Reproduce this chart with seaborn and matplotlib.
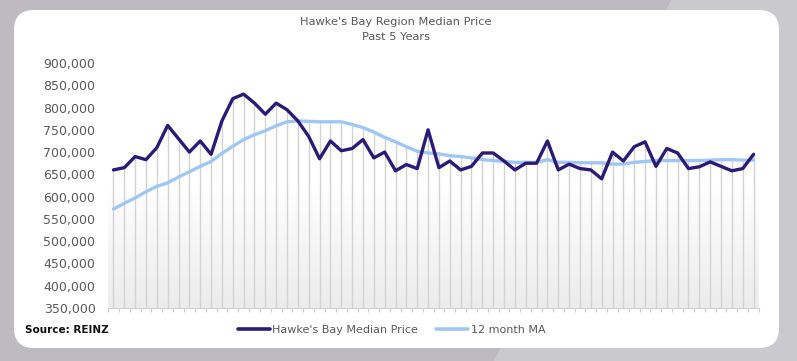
import numpy as np
import pandas as pd
import matplotlib
matplotlib.use("Agg")
import matplotlib.pyplot as plt
import seaborn as sns
from matplotlib.patches import FancyBboxPatch, Polygon
from matplotlib.colors import LinearSegmentedColormap
from matplotlib.ticker import FuncFormatter, FixedLocator
from matplotlib.lines import Line2D

# ---- data (NZD, thousands), 60 months ----
median_price = [660, 665, 690, 683, 710, 760, 730, 700, 725, 695,
                770, 820, 830, 810, 785, 810, 795, 770, 735, 685,
                725, 703, 708, 728, 687, 700, 658, 672, 663, 750,
                665, 680, 660, 668, 698, 698, 680, 660, 675, 675,
                725, 660, 673, 663, 660, 640, 700, 680, 712, 723,
                668, 708, 698, 663, 667, 678, 668, 658, 663, 695]
ma_12 = [572, 585, 597, 611, 623, 631, 644, 656, 668, 679,
         697, 713, 728, 739, 748, 759, 768, 770, 769, 768,
         768, 768, 762, 755, 745, 733, 723, 712, 702, 698,
         696, 692, 690, 687, 683, 681, 679, 677, 677, 677,
         683, 677, 677, 676, 676, 676, 673, 673, 677, 679,
         681, 681, 681, 681, 681, 682, 683, 683, 682, 682]
series_names = ["Hawke's Bay Median Price", "12 month MA"]
title_lines = ["Hawke's Bay Region Median Price", "Past 5 Years"]
source_text = "Source: REINZ"

med = np.array(median_price) * 1000
ma = np.array(ma_12) * 1000
month = np.arange(len(med))
df = pd.DataFrame({"month": np.concatenate([month, month]),
                   "price": np.concatenate([med, ma]),
                   "series": [series_names[0]] * len(med) + [series_names[1]] * len(ma)})

sns.set_theme(style="white")
plt.rcParams["font.family"] = ["DejaVu Sans"]

W, H = 797, 361
fig = plt.figure(figsize=(W / 100, H / 100), dpi=100)
fig.patch.set_facecolor("#bdbbc1")

# background decoration
bg = fig.add_axes([0, 0, 1, 1])
bg.set_xlim(0, W)
bg.set_ylim(H, 0)
bg.axis("off")
bg.add_patch(Polygon([(671, 0), (W, 0), (W, H), (494, H)], closed=True,
                     facecolor="#cac9ce", edgecolor="none"))
bg.add_patch(FancyBboxPatch((14, 10), 765, 338,
                            boxstyle="round,pad=0,rounding_size=20",
                            facecolor="white", edgecolor="none"))

ax = fig.add_axes([108 / W, 1 - 308 / H, (759 - 108) / W, (308 - 63) / H])
ax.set_facecolor("none")

# plot area gradient
grad = np.linspace(0, 1, 256).reshape(-1, 1)
cmap = LinearSegmentedColormap.from_list("g", ["#ffffff", "#ffffff", "#ececec"])
ax.imshow(grad, extent=[-0.5, len(med) - 0.5, 350000, 900000], aspect="auto",
          cmap=cmap, origin="upper", zorder=0)

# drop lines
ax.vlines(month, 350000, np.maximum(med, ma), color="#d3d3d3", lw=1, zorder=1)

palette = {series_names[0]: "#2c1a79", series_names[1]: "#9fc7f3"}
sns.lineplot(data=df, x="month", y="price", hue="series", palette=palette,
             hue_order=[series_names[1], series_names[0]],
             lw=2.4, ax=ax, legend=False, zorder=3)

ax.set_xlim(-0.5, len(med) - 0.5)
ax.set_ylim(350000, 900000)
ax.set_yticks(np.arange(350000, 900001, 50000))
ax.yaxis.set_major_formatter(FuncFormatter(lambda v, p: f"{int(v):,}"))
ax.xaxis.set_major_locator(FixedLocator(np.arange(-0.5, len(med), 1.0)))
ax.set_xticklabels([])
ax.tick_params(axis="x", length=3, width=0.8, color="#d0d0d0", direction="out", bottom=True)
ax.tick_params(axis="y", length=0, labelsize=9, labelcolor="#595959", pad=9)
ax.set_xlabel("")
ax.set_ylabel("")
for s in ["top", "right", "left"]:
    ax.spines[s].set_visible(False)
ax.spines["bottom"].set_color("#d0d0d0")
ax.spines["bottom"].set_linewidth(0.8)

# titles
fig.text(396 / W, 1 - 22 / H, title_lines[0], ha="center", va="center",
         fontsize=8.2, color="#595959")
fig.text(396 / W, 1 - 37 / H, title_lines[1], ha="center", va="center",
         fontsize=8.2, color="#595959")
fig.text(25 / W, 1 - 330 / H, source_text, ha="left", va="center",
         fontsize=7.5, fontweight="bold", color="#111111")

handles = [Line2D([], [], color=palette[series_names[0]], lw=2.6),
           Line2D([], [], color=palette[series_names[1]], lw=2.6)]
fig.legend(handles, series_names, loc="center left",
           bbox_to_anchor=(238 / W, 1 - 330 / H), ncol=2, frameon=False,
           fontsize=8, handlelength=2.9, handletextpad=0.2, columnspacing=1.6,
           labelcolor="#595959", borderaxespad=0, borderpad=0)

fig.savefig("out.png", dpi=100, facecolor=fig.get_facecolor())
